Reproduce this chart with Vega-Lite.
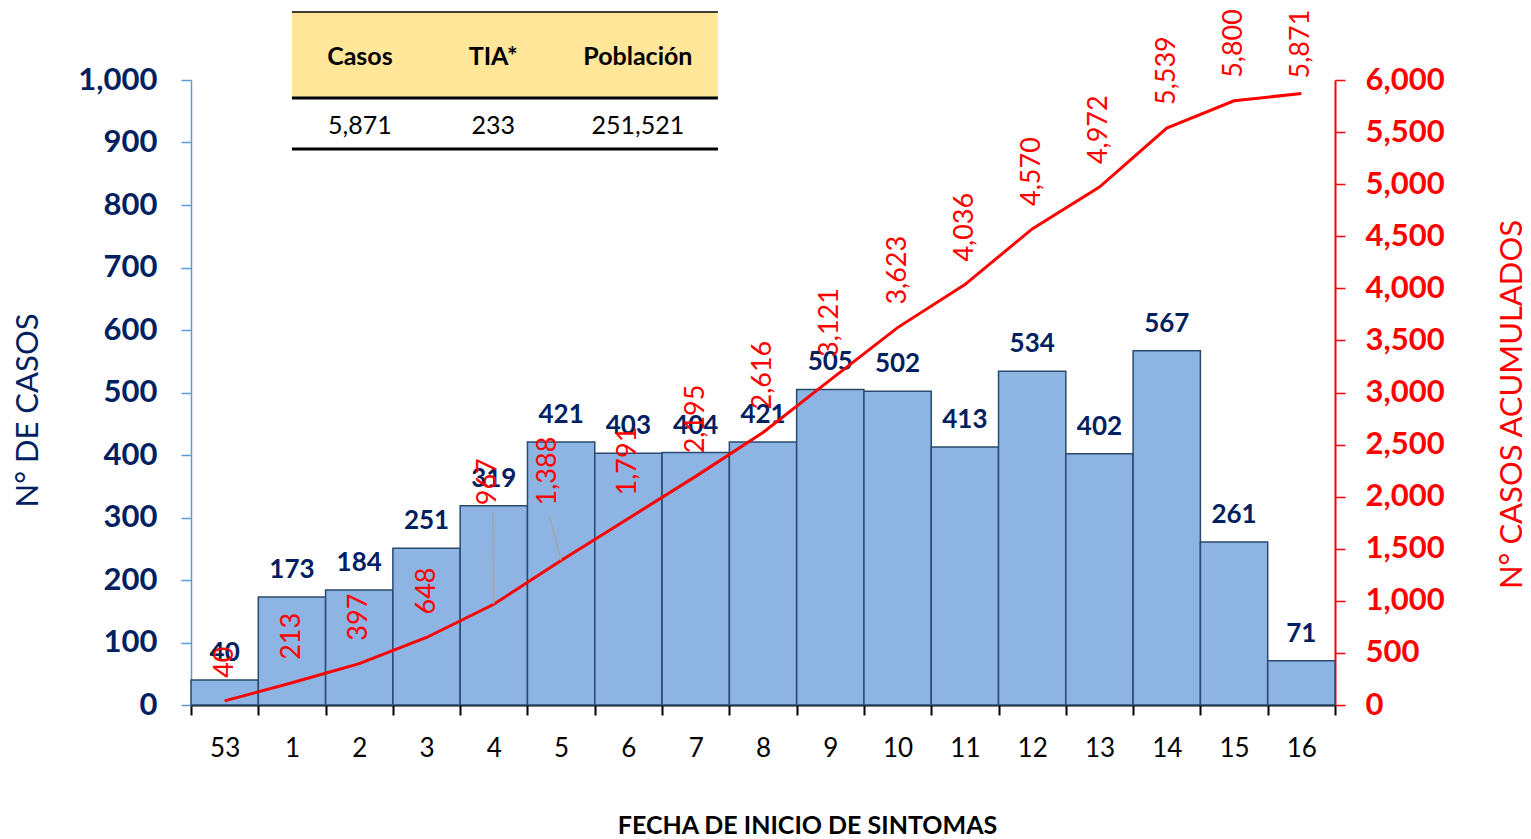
{
  "$schema": "https://vega.github.io/schema/vega-lite/v6.json",
  "width": 1144,
  "height": 625,
  "autosize": "none",
  "padding": {"left": 191, "top": 80, "right": 196, "bottom": 134},
  "background": "white",
  "config": {"font": "Lato", "view": {"stroke": null}, "axis": {"grid": false}},
  "data": {
    "values": [
      {"semana": "53", "casos": 40, "acum": 40},
      {"semana": "1", "casos": 173, "acum": 213},
      {"semana": "2", "casos": 184, "acum": 397},
      {"semana": "3", "casos": 251, "acum": 648},
      {"semana": "4", "casos": 319, "acum": 967},
      {"semana": "5", "casos": 421, "acum": 1388},
      {"semana": "6", "casos": 403, "acum": 1791},
      {"semana": "7", "casos": 404, "acum": 2195},
      {"semana": "8", "casos": 421, "acum": 2616},
      {"semana": "9", "casos": 505, "acum": 3121},
      {"semana": "10", "casos": 502, "acum": 3623},
      {"semana": "11", "casos": 413, "acum": 4036},
      {"semana": "12", "casos": 534, "acum": 4570},
      {"semana": "13", "casos": 402, "acum": 4972},
      {"semana": "14", "casos": 567, "acum": 5539},
      {"semana": "15", "casos": 261, "acum": 5800},
      {"semana": "16", "casos": 71, "acum": 5871}
    ]
  },
  "layer": [
    {
      "encoding": {
        "x": {
          "field": "semana", "type": "nominal", "sort": null,
          "scale": {"domain": ["53","1","2","3","4","5","6","7","8","9","10","11","12","13","14","15","16"], "paddingInner": 0, "paddingOuter": 0},
          "axis": {
            "title": "FECHA DE INICIO DE SINTOMAS", "titleFontSize": 25, "titleFontWeight": "bold", "titleColor": "#000000", "titlePadding": 52, "titleX": 616,
            "labelAngle": 0, "labelFontSize": 26, "labelColor": "#000000", "labelPadding": 20,
            "tickBand": "extent", "tickColor": "#000000", "tickWidth": 2, "tickSize": 10,
            "domainColor": "#000000", "domainWidth": 2
          }
        },
        "y": {
          "field": "casos", "type": "quantitative",
          "scale": {"domain": [0, 1000], "nice": false},
          "axis": {
            "title": "N° DE CASOS", "titleFontSize": 31, "titleFontWeight": "normal", "titleColor": "#002060", "titlePadding": 33, "titleY": 330,
            "values": [0,100,200,300,400,500,600,700,800,900,1000], "format": ",.0f",
            "labelFontSize": 31, "labelFontWeight": "bold", "labelColor": "#002060", "labelPadding": 24,
            "tickColor": "#5B9BD5", "tickSize": 10, "tickWidth": 1.5,
            "domainColor": "#5B9BD5", "domainWidth": 1.5
          }
        }
      },
      "layer": [
        {"mark": {"type": "bar", "fill": "#8DB4E2", "stroke": "#2A4A6E", "strokeWidth": 1.5}},
        {
          "mark": {"type": "text", "baseline": "alphabetic", "dy": -19, "fontSize": 26, "fontWeight": "bold", "color": "#002060"},
          "encoding": {"text": {"field": "casos", "type": "quantitative", "format": ","}}
        }
      ]
    },
    {
      "encoding": {
        "x": {
          "field": "semana", "type": "nominal", "sort": null,
          "scale": {"domain": ["53","1","2","3","4","5","6","7","8","9","10","11","12","13","14","15","16"], "paddingInner": 0, "paddingOuter": 0},
          "axis": null
        },
        "y": {
          "field": "acum", "type": "quantitative",
          "scale": {"domain": [0, 6000], "nice": false},
          "axis": {
            "orient": "right",
            "title": "N° CASOS ACUMULADOS", "titleFontSize": 31, "titleFontWeight": "normal", "titleColor": "#FF0000", "titleAngle": 270, "titlePadding": 84, "titleY": 324,
            "values": [0,500,1000,1500,2000,2500,3000,3500,4000,4500,5000,5500,6000], "format": ",.0f",
            "labelFontSize": 31, "labelFontWeight": "bold", "labelColor": "#FF0000", "labelPadding": 20,
            "tickColor": "#FF0000", "tickSize": 10, "tickWidth": 1.5,
            "domainColor": "#FF0000", "domainWidth": 2
          }
        }
      },
      "layer": [
        {"mark": {"type": "line", "color": "#FF0000", "strokeWidth": 3}},
        {
          "transform": [{"filter": "datum.acum != 967 && datum.acum != 1388 && datum.acum != 5871"}],
          "mark": {"type": "text", "angle": 270, "align": "left", "baseline": "middle", "dx": 23, "fontSize": 27, "color": "#FF0000"},
          "encoding": {"text": {"field": "acum", "type": "quantitative", "format": ","}}
        },
        {
          "transform": [{"filter": "datum.acum == 5871"}],
          "mark": {"type": "text", "angle": 270, "align": "left", "baseline": "middle", "dx": 15, "fontSize": 27, "color": "#FF0000"},
          "encoding": {"text": {"field": "acum", "type": "quantitative", "format": ","}}
        },
        {
          "transform": [{"filter": "datum.acum == 967"}],
          "mark": {"type": "text", "angle": 270, "align": "left", "baseline": "middle", "dx": 99, "dy": -6, "fontSize": 27, "color": "#FF0000"},
          "encoding": {"text": {"field": "acum", "type": "quantitative", "format": ","}}
        },
        {
          "transform": [{"filter": "datum.acum == 1388"}],
          "mark": {"type": "text", "angle": 270, "align": "left", "baseline": "middle", "dx": 55, "dy": -13, "fontSize": 27, "color": "#FF0000"},
          "encoding": {"text": {"field": "acum", "type": "quantitative", "format": ","}}
        },
        {
          "transform": [{"filter": "datum.acum == 967"}],
          "mark": {"type": "rule", "color": "#A6A6A6", "strokeWidth": 1.5, "y2Offset": -92, "x2Offset": -1},
          "encoding": {"y2": {"field": "acum"}, "x2": {"field": "semana"}}
        },
        {
          "transform": [{"filter": "datum.acum == 1388"}],
          "mark": {"type": "rule", "color": "#A6A6A6", "strokeWidth": 1.5, "y2Offset": -45, "x2Offset": -12},
          "encoding": {"y2": {"field": "acum"}, "x2": {"field": "semana"}}
        }
      ]
    },
    {
      "data": {"values": [{}]},
      "encoding": {
        "x": {"datum": 1.5, "type": "quantitative", "scale": {"domain": [0, 17], "nice": false}, "axis": null},
        "y": {"datum": 1108.8, "type": "quantitative", "scale": {"domain": [0, 1000], "nice": false}, "axis": null}
      },
      "layer": [
        {
          "mark": {"type": "rect", "fill": "#FFE699"},
          "encoding": {"x2": {"datum": 7.83}, "y2": {"datum": 971.2}}
        },
        {
          "mark": {"type": "rule", "color": "#000000", "strokeWidth": 1.5},
          "encoding": {"x2": {"datum": 7.83}}
        },
        {
          "mark": {"type": "rule", "color": "#000000", "strokeWidth": 3},
          "encoding": {"x2": {"datum": 7.83}, "y": {"datum": 971.2, "type": "quantitative"}}
        },
        {
          "mark": {"type": "rule", "color": "#000000", "strokeWidth": 3},
          "encoding": {"x2": {"datum": 7.83}, "y": {"datum": 889.6, "type": "quantitative"}}
        },
        {
          "mark": {"type": "text", "text": "Casos", "fontSize": 25, "fontWeight": "bold", "color": "#000000", "baseline": "middle"},
          "encoding": {"x": {"datum": 2.51, "type": "quantitative"}, "y": {"datum": 1036.8, "type": "quantitative"}}
        },
        {
          "mark": {"type": "text", "text": "TIA*", "fontSize": 25, "fontWeight": "bold", "color": "#000000", "baseline": "middle"},
          "encoding": {"x": {"datum": 4.49, "type": "quantitative"}, "y": {"datum": 1036.8, "type": "quantitative"}}
        },
        {
          "mark": {"type": "text", "text": "Población", "fontSize": 25, "fontWeight": "bold", "color": "#000000", "baseline": "middle"},
          "encoding": {"x": {"datum": 6.64, "type": "quantitative"}, "y": {"datum": 1036.8, "type": "quantitative"}}
        },
        {
          "mark": {"type": "text", "text": "5,871", "fontSize": 25, "color": "#000000", "baseline": "middle"},
          "encoding": {"x": {"datum": 2.51, "type": "quantitative"}, "y": {"datum": 926.4, "type": "quantitative"}}
        },
        {
          "mark": {"type": "text", "text": "233", "fontSize": 25, "color": "#000000", "baseline": "middle"},
          "encoding": {"x": {"datum": 4.49, "type": "quantitative"}, "y": {"datum": 926.4, "type": "quantitative"}}
        },
        {
          "mark": {"type": "text", "text": "251,521", "fontSize": 25, "color": "#000000", "baseline": "middle"},
          "encoding": {"x": {"datum": 6.64, "type": "quantitative"}, "y": {"datum": 926.4, "type": "quantitative"}}
        }
      ]
    }
  ],
  "resolve": {"scale": {"x": "independent", "y": "independent"}}
}
